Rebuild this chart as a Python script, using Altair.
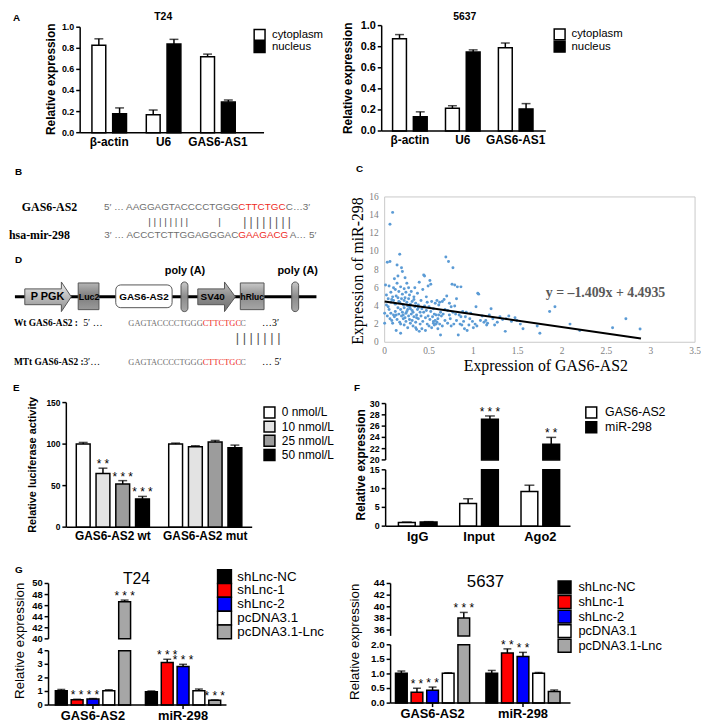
import altair as alt
import pandas as pd

W, H = 701, 716
SANS = "Liberation Sans"
SERIF = "Liberation Serif"


def vx(x):
    return x - 8


def vy(y):
    return y - 8


# ======================= DATA =======================
# --- A: nuclear / cytoplasmic fractionation ---
a_genes = ["β-actin", "U6", "GAS6-AS1"]
a_fractions = ["cytoplasm", "nucleus"]
a_colors = ["white", "black"]
t24_cyto = [0.83, 0.17, 0.72]
t24_cyto_err = [0.06, 0.045, 0.025]
t24_nuc = [0.18, 0.84, 0.29]
t24_nuc_err = [0.055, 0.045, 0.02]
c5637_cyto = [0.875, 0.215, 0.79]
c5637_cyto_err = [0.04, 0.025, 0.045]
c5637_nuc = [0.135, 0.75, 0.21]
c5637_nuc_err = [0.047, 0.02, 0.05]
a_ticks = [0, 0.2, 0.4, 0.6, 0.8, 1.0]

# --- C: correlation scatter ---
sc_x = [
    0.00, 0.00, 0.01, 0.02, 0.03, 0.04, 0.04, 0.05, 0.06, 0.06, 0.06, 0.07, 0.07, 0.07, 0.08, 0.09, 0.09, 0.09, 0.10, 0.10, 0.03, 0.05, 0.08, 0.02, 0.10,
    0.11, 0.11, 0.12, 0.12, 0.13, 0.13, 0.14, 0.14, 0.15, 0.15, 0.15, 0.16, 0.16, 0.17, 0.17, 0.17, 0.18, 0.18, 0.18, 0.19, 0.19, 0.19, 0.20, 0.20, 0.20, 0.12, 0.13, 0.16, 0.18, 0.14,
    0.21, 0.21, 0.22, 0.22, 0.22, 0.23, 0.23, 0.24, 0.24, 0.24, 0.25, 0.25, 0.26, 0.26, 0.27, 0.27, 0.28, 0.28, 0.29, 0.29, 0.30, 0.30, 0.21, 0.23, 0.26, 0.27, 0.28, 0.25, 0.22, 0.29,
    0.31, 0.31, 0.32, 0.32, 0.33, 0.33, 0.34, 0.34, 0.35, 0.35, 0.36, 0.36, 0.37, 0.37, 0.38, 0.38, 0.39, 0.39, 0.40, 0.40, 0.33, 0.36, 0.31, 0.38, 0.35,
    0.41, 0.41, 0.42, 0.42, 0.43, 0.43, 0.44, 0.44, 0.45, 0.45, 0.46, 0.46, 0.47, 0.47, 0.48, 0.48, 0.49, 0.49, 0.50, 0.50,
    0.51, 0.51, 0.52, 0.52, 0.53, 0.53, 0.54, 0.55, 0.55, 0.56, 0.56, 0.57, 0.57, 0.58, 0.58, 0.59, 0.59, 0.60, 0.60, 0.55,
    0.61, 0.61, 0.62, 0.62, 0.63, 0.63, 0.64, 0.65, 0.65, 0.66, 0.67, 0.68, 0.68, 0.69, 0.70,
    0.71, 0.71, 0.72, 0.73, 0.73, 0.74, 0.75, 0.75, 0.76, 0.77, 0.77, 0.78, 0.79, 0.79, 0.80,
    0.81, 0.81, 0.82, 0.83, 0.84, 0.85, 0.86, 0.86, 0.87, 0.88, 0.89, 0.90,
    0.91, 0.92, 0.93, 0.95, 0.96, 0.97, 0.99, 1.00, 1.02, 1.03, 1.04, 1.05, 1.06, 1.08,
    1.10, 1.12, 1.14, 1.15, 1.16, 1.18, 1.20, 1.22, 1.24, 1.27,
    1.30, 1.33, 1.36, 1.37, 1.40, 1.43, 1.47, 1.49, 1.53, 1.56,
    1.72, 1.75, 1.86, 1.92, 2.09, 2.20, 2.57, 2.72, 2.88,
]
sc_y = [
    3.2, 2.1, 6.3, 4.1, 8.8, 4.8, 3.9, 6.2, 8.9, 13.0, 2.6, 5.5, 4.4, 3.2, 4.7, 14.3, 5.0, 2.1, 3.0, 4.6, 2.9, 3.6, 2.4, 5.2, 6.0,
    7.0, 2.8, 4.2, 3.4, 1.3, 5.1, 8.5, 2.5, 4.9, 3.8, 7.3, 3.1, 5.6, 9.7, 2.2, 4.4, 6.1, 3.6, 1.0, 8.2, 4.8, 2.9, 5.3, 3.3, 7.8, 5.8, 3.0, 4.5, 2.0, 6.5,
    4.1, 2.6, 5.9, 3.8, 1.9, 4.9, 7.1, 3.2, 5.5, 2.3, 4.4, 6.5, 3.6, 1.6, 4.8, 2.9, 5.2, 3.9, 2.1, 4.2, 3.1, 5.6, 3.0, 2.7, 4.0, 6.0, 2.5, 3.4, 4.6, 3.7,
    2.4, 4.5, 3.3, 1.8, 5.0, 2.8, 3.9, 6.0, 2.2, 4.3, 3.0, 1.4, 3.6, 5.4, 2.6, 4.1, 6.6, 1.2, 3.3, 2.0, 4.7, 2.7, 3.5, 3.8, 1.6,
    4.6, 2.9, 3.7, 1.5, 5.8, 2.3, 3.3, 7.4, 4.0, 7.3, 2.7, 1.3, 3.5, 5.0, 2.0, 4.4, 2.9, 6.2, 1.8, 3.9,
    6.8, 2.5, 6.4, 3.4, 1.6, 4.5, 2.8, 3.7, 2.1, 1.9, 3.1, 4.3, 2.4, 2.0, 3.0, 2.2, 4.6, 2.6, 1.5, 2.3,
    4.1, 3.0, 2.0, 4.4, 0.8, 3.3, 2.9, 4.5, 1.8, 3.1, 4.7, 3.6, 2.4, 9.4, 5.1,
    3.5, 2.1, 8.9, 3.0, 4.3, 2.6, 3.9, 1.8, 6.4, 3.3, 8.2, 2.0, 4.0, 6.3, 3.1,
    4.8, 2.4, 6.1, 0.8, 3.0, 2.0, 6.1, 2.8, 1.9, 3.4, 2.3, 1.5,
    2.8, 3.3, 1.3, 1.9, 2.6, 3.2, 2.3, 1.6, 2.0, 3.9, 1.8, 5.4, 5.3, 2.4,
    2.9, 2.2, 2.4, 1.9, 2.1, 3.0, 3.7, 2.6, 1.9, 2.2,
    2.8, 2.5, 1.2, 2.6, 2.9, 2.3, 2.7, 2.4, 2.0, 1.5,
    1.8, 1.0, 3.4, 3.9, 2.0, 1.3, 1.6, 2.6, 1.45,
]
reg_x = [0.0, 2.89]
reg_y = [4.4935, 0.42]
c_xticks = [0, 0.5, 1, 1.5, 2, 2.5, 3, 3.5]
c_yticks = [0, 2, 4, 6, 8, 10, 12, 14, 16]

# --- E: luciferase reporter ---
e_groups = ["GAS6-AS2 wt", "GAS6-AS2 mut"]
e_conc = ["0 nmol/L", "10 nmol/L", "25 nmol/L", "50 nmol/L"]
e_colors = ["white", "#e3e3e3", "#9c9c9c", "black"]
e_wt = [100, 64.5, 52, 34]
e_wt_err = [2, 6.5, 4, 3]
e_mut = [100, 96.8, 102.4, 95.6]
e_mut_err = [1.2, 1.2, 2, 3.2]
e_wt_stars = ["", "* *", "* * *", "* * *"]
e_mut_stars = ["", "", "", ""]
e_ticks = [0, 50, 100, 150]

# --- F: RIP assay ---
f_groups = ["IgG", "Input", "Ago2"]
f_series = ["GAS6-AS2", "miR-298"]
f_colors = ["white", "black"]
f_gas6 = [1.0, 6.0, 9.2]
f_gas6_err = [0.1, 1.3, 1.7]
f_mir = [1.1, 27.2, 22.8]
f_mir_err = [0.1, 0.6, 1.2]
f_gas6_stars = ["", "", ""]
f_mir_stars = ["", "* * *", "* *"]
f_low_ticks = [0, 5, 10, 15]
f_high_ticks = [20, 22, 24, 26, 28, 30]

# --- G: knockdown / overexpression ---
g_groups = ["GAS6-AS2", "miR-298"]
g_series = ["shLnc-NC", "shLnc-1", "shLnc-2", "pcDNA3.1", "pcDNA3.1-Lnc"]
g_colors = ["black", "#ff0000", "#0000ff", "white", "#a6a6a6"]
t24_g_gas6 = [1.05, 0.40, 0.44, 1.05, 46.7]
t24_g_gas6_err = [0.10, 0.03, 0.04, 0.08, 0.3]
t24_g_mir = [0.98, 3.14, 2.84, 1.05, 0.35]
t24_g_mir_err = [0.06, 0.23, 0.16, 0.13, 0.03]
t24_g_gas6_stars = ["", "* *", "* *", "", "* * *"]
t24_g_mir_stars = ["", "* * *", "* * *", "", "* * *"]
c5637_g_gas6 = [1.02, 0.37, 0.44, 1.02, 38.06]
c5637_g_gas6_err = [0.08, 0.14, 0.11, 0.02, 0.97]
c5637_g_mir = [1.02, 1.72, 1.60, 1.02, 0.40]
c5637_g_mir_err = [0.10, 0.14, 0.14, 0.03, 0.05]
c5637_g_gas6_stars = ["", "* *", "* *", "", "* * *"]
c5637_g_mir_stars = ["", "* *", "* *", "", ""]
g_t24_low_ticks = [0, 1, 2, 3, 4]
g_t24_high_ticks = [40, 42, 44, 46, 48, 50]
g_5637_low_ticks = [0, 0.5, 1.0, 1.5, 2.0]
g_5637_high_ticks = [36, 38, 40, 42, 44]


# ======================= HELPERS =======================
BLANK = alt.Data(values=[{"k": 0}])


def df_series_major(groups, series, vals, errs, stars):
    rows = []
    for s, vl, el, sl in zip(series, vals, errs, stars):
        for g, v, e, st in zip(groups, vl, el, sl):
            rows.append({"g": g, "s": s, "v": v, "e": e, "star": st})
    d = pd.DataFrame(rows)
    d["t"] = d["v"] + d["e"]
    d["b"] = 0.0
    return d


def df_group_major(groups, series, vals, errs, stars):
    rows = []
    for g, vl, el, sl in zip(groups, vals, errs, stars):
        for s, v, e, st in zip(series, vl, el, sl):
            rows.append({"g": g, "s": s, "v": v, "e": e, "star": st})
    d = pd.DataFrame(rows)
    d["t"] = d["v"] + d["e"]
    d["b"] = 0.0
    return d


def split_df(d, low_top, high_bottom):
    low = d.copy()
    big = low["v"] > low_top
    low.loc[big, "v"] = low_top
    low.loc[big, "e"] = 0.0
    low.loc[big, "star"] = ""
    high = d[d["v"] > low_top].copy()
    high["b"] = high_bottom
    return low, high


def xscale(groups, r0, r1, pi, po, align):
    return alt.Scale(domain=groups, range=[vx(r0), vx(r1)], paddingInner=pi,
                     paddingOuter=po, align=align)


def xoffscale(series, n_groups, r0, r1, pi, po, opi):
    step = (r1 - r0) / (n_groups - pi + 2 * po)
    bw = step * (1 - pi)
    return alt.Scale(domain=series, range=[0, bw], paddingInner=opi, paddingOuter=0)


def yscale(dom, r0, r1):
    return alt.Scale(domain=dom, range=[vy(r0), vy(r1)], nice=False, zero=False)


def y_axis(ys, x_abs, dom, ticks, size, fmt="{:g}", font=SANS, weight="bold",
           color="black", line=True, ticklen=4, pad=2):
    d = pd.DataFrame({"v": ticks, "lab": [fmt.format(t) for t in ticks]})
    out = []
    if line:
        out.append(alt.Chart(BLANK).mark_rule(color="black", strokeWidth=1.5).encode(
            x=alt.value(vx(x_abs)),
            y=alt.Y(datum=dom[0], type="quantitative", scale=ys, axis=None),
            y2=alt.Y2(datum=dom[1])))
    if ticklen:
        out.append(alt.Chart(d).mark_rule(color="black", strokeWidth=1.5).encode(
            x=alt.value(vx(x_abs) - ticklen), x2=alt.value(vx(x_abs)),
            y=alt.Y("v:Q", scale=ys, axis=None)))
    out.append(alt.Chart(d).mark_text(align="right", baseline="middle", font=font,
                                      fontWeight=weight, fontSize=size, color=color).encode(
        x=alt.value(vx(x_abs) - ticklen - pad), y=alt.Y("v:Q", scale=ys, axis=None),
        text="lab:N"))
    return out


def x_axis(xs, groups, r0, r1, y_abs, size, pad, ticks=False):
    d = pd.DataFrame({"g": groups})
    out = [alt.Chart(BLANK).mark_rule(color="black", strokeWidth=1.5).encode(
        x=alt.value(vx(r0)), x2=alt.value(vx(r1)), y=alt.value(vy(y_abs)))]
    off = pad
    if ticks:
        out.append(alt.Chart(d).mark_rule(color="black", strokeWidth=1.5).encode(
            x=alt.X("g:N", scale=xs, axis=None),
            y=alt.value(vy(y_abs)), y2=alt.value(vy(y_abs) + 4)))
        off += 4
    out.append(alt.Chart(d).mark_text(baseline="top", font=SANS, fontWeight="bold",
                                      fontSize=size, color="black").encode(
        x=alt.X("g:N", scale=xs, axis=None), y=alt.value(vy(y_abs) + off), text="g:N"))
    return out


def bar_panel(d, series, colors, xs, xo, ys, extra, cap=8, star_size=12):
    X = alt.X("g:N", scale=xs, axis=None)
    XO = alt.XOffset("s:N", scale=xo)
    layers = [alt.Chart(d).mark_bar(stroke="black", strokeWidth=1.5).encode(
        x=X, xOffset=XO,
        y=alt.Y("v:Q", scale=ys, axis=None), y2=alt.Y2("b:Q"),
        fill=alt.Fill("s:N", scale=alt.Scale(domain=series, range=colors), legend=None))]
    e = d[d["e"] > 0]
    if len(e):
        layers.append(alt.Chart(e).mark_rule(color="black", strokeWidth=1.5).encode(
            x=X, xOffset=XO, y=alt.Y("v:Q", scale=ys, axis=None), y2=alt.Y2("t:Q")))
        layers.append(alt.Chart(e).mark_tick(color="black", thickness=1.5, size=cap).encode(
            x=X, xOffset=XO, y=alt.Y("t:Q", scale=ys, axis=None)))
    st = d[d["star"] != ""]
    if len(st):
        layers.append(alt.Chart(st).mark_text(font=SANS, fontSize=star_size, color="black",
                                              baseline="alphabetic").encode(
            x=X, xOffset=XO, y=alt.Y("t:Q", scale=ys, axis=None), text="star:N"))
    return alt.layer(*(layers + extra))


def legend(items, colors, sq_cx, y_first, y_last, label_x, sq, size):
    d = pd.DataFrame({"s": items})
    ys = alt.Scale(type="point", domain=items, range=[vy(y_first), vy(y_last)], padding=0)
    squares = alt.Chart(d).mark_square(size=sq * sq, filled=True, stroke="black",
                                       strokeWidth=1.5, opacity=1).encode(
        x=alt.value(vx(sq_cx)), y=alt.Y("s:N", scale=ys, axis=None),
        fill=alt.Fill("s:N", scale=alt.Scale(domain=items, range=colors), legend=None))
    labels = alt.Chart(d).mark_text(align="left", baseline="middle", font=SANS,
                                    fontSize=size, color="black").encode(
        x=alt.value(vx(label_x)), y=alt.Y("s:N", scale=ys, axis=None), text="s:N")
    return alt.layer(squares, labels)


def txt(t, x, y, size, weight="normal", font=SANS, color="black", align="left",
        baseline="middle", angle=0):
    m = dict(text=t, fontSize=size, fontWeight=weight, font=font, color=color,
             align=align, baseline=baseline)
    if angle:
        m["angle"] = angle
    return alt.Chart(BLANK).mark_text(**m).encode(x=alt.value(vx(x)), y=alt.value(vy(y)))


def box(x0, x1, y0, y1, fill, stroke="#555555", radius=0, sw=1.0):
    return alt.Chart(BLANK).mark_rect(fill=fill, stroke=stroke, strokeWidth=sw,
                                      cornerRadius=radius).encode(
        x=alt.value(vx(x0)), x2=alt.value(vx(x1)), y=alt.value(vy(y0)), y2=alt.value(vy(y1)))


def arrow(x0, x1, yc, head_x, body_h, head_h, fill):
    w = x1 - x0
    s = w / 2.0
    cx = (x0 + x1) / 2.0
    hx = (head_x - cx) / s
    b = body_h / 2.0 / s
    h = head_h / 2.0 / s
    path = (f"M-1,{-b:.3f}L{hx:.3f},{-b:.3f}L{hx:.3f},{-h:.3f}L1,0"
            f"L{hx:.3f},{h:.3f}L{hx:.3f},{b:.3f}L-1,{b:.3f}Z")
    return alt.Chart(BLANK).mark_point(shape=path, size=w * w, filled=True, fill=fill,
                                       stroke="#555555", strokeWidth=1, opacity=1).encode(
        x=alt.value(vx(cx)), y=alt.value(vy(yc)))


def grad(c0, c1, c2):
    return alt.LinearGradient(gradient="linear", x1=0, y1=0, x2=0, y2=1, stops=[
        alt.GradientStop(color=c0, offset=0), alt.GradientStop(color=c1, offset=0.5),
        alt.GradientStop(color=c2, offset=1)])


layers = []

# ======================= PANEL A =======================
dA1 = df_series_major(a_genes, a_fractions, [t24_cyto, t24_nuc], [t24_cyto_err, t24_nuc_err],
                      [["", "", ""], ["", "", ""]])
xsA1 = xscale(a_genes, 81, 267, 0.364, 0.373, 0.29)
ysA1 = yscale([0, 1], 130, 23.3)
layers.append(bar_panel(
    dA1, a_fractions, a_colors, xsA1,
    xoffscale(a_fractions, 3, 81, 267, 0.364, 0.373, 0.333), ysA1,
    y_axis(ysA1, 81, [0, 1], a_ticks, 9, "{:.1f}") + x_axis(xsA1, a_genes, 81, 267, 130, 12, 4),
    cap=9))
dA2 = df_series_major(a_genes, a_fractions, [c5637_cyto, c5637_nuc], [c5637_cyto_err, c5637_nuc_err],
                      [["", "", ""], ["", "", ""]])
xsA2 = xscale(a_genes, 386, 552, 0.346, 0.224, 0.46)
ysA2 = yscale([0, 1], 128.3, 21.7)
layers.append(bar_panel(
    dA2, a_fractions, a_colors, xsA2,
    xoffscale(a_fractions, 3, 386, 552, 0.346, 0.224, 0.333), ysA2,
    y_axis(ysA2, 386, [0, 1], a_ticks, 11, "{:.1f}") + x_axis(xsA2, a_genes, 386, 552, 128.3, 12, 4),
    cap=9))
layers.append(legend(a_fractions, a_colors, 262.5, 31, 43.5, 275, 11, 11.5))
layers.append(legend(a_fractions, a_colors, 566, 30.5, 43, 578, 11, 11.5))
layers += [
    txt("A", 13, 14, 10, "bold"),
    txt("T24", 165, 13, 10.5, "bold", align="center"),
    txt("5637", 470, 13, 10.5, "bold", align="center"),
    txt("Relative expression", 52, 76, 12, "bold", align="center", angle=270),
    txt("Relative expression", 352, 75, 12, "bold", align="center", angle=270),
]

# ======================= PANEL B =======================
GRAY_T = "#6e6e6e"
RED_T = "#ee2a24"
layers += [
    txt("B", 15, 170, 10, "bold"),
    txt("GAS6-AS2", 22, 205, 12, "bold", SERIF),
    txt("hsa-mir-298", 9, 234, 12, "bold", SERIF),
    txt("5′ … AAGGAGTACCCCTGGG", 241, 205, 10, color=GRAY_T, align="right"),
    txt("CTTCTGC", 241, 205, 10, color=RED_T),
    txt("C…3′", 289, 205, 10, color=GRAY_T),
    txt("|  |  |  |  |  |  |  |", 170, 220, 10, color="#555555", align="center"),
    txt("|", 222, 220, 10, color="#555555", align="center"),
    txt("| | | | | | | |", 270, 220, 12, color="#555555", align="center"),
    txt("3′ … ACCCTCTTGGAGGGAC", 241, 234, 10, color=GRAY_T, align="right"),
    txt("GAAGACG", 241, 234, 10, color=RED_T),
    txt("A… 5′", 293, 234, 10, color=GRAY_T),
]

# ======================= PANEL D =======================
layers += [
    txt("D", 15, 259, 10, "bold"),
    txt("poly (A)", 187, 270, 11, "bold", align="center"),
    txt("poly (A)", 301, 270, 11, "bold", align="center"),
    alt.Chart(BLANK).mark_rule(color="black", strokeWidth=3).encode(
        x=alt.value(vx(15)), x2=alt.value(vx(320)), y=alt.value(vy(296))),
    arrow(25, 72, 296, 62, 16, 30, grad("#ececec", "#bdbdbd", "#8e8e8e")),
    box(79, 100, 282, 309, grad("#b5b5b5", "#7d7d7d", "#9a9a9a")),
    box(117, 174, 284, 307, "white", "#555555", 5),
    box(183, 190, 281, 311, grad("#c8c8c8", "#8c8c8c", "#a8a8a8"), radius=3.5),
    arrow(200, 238, 296, 227, 16, 30, grad("#c0c0c0", "#8c8c8c", "#6f6f6f")),
    box(243, 267, 282, 309, grad("#c8c8c8", "#8c8c8c", "#a6a6a6")),
    box(295, 302, 281, 311, grad("#c8c8c8", "#8c8c8c", "#a8a8a8"), radius=3.5),
    txt("P PGK", 48, 296, 11, "bold", align="center"),
    txt("Luc2", 90, 296, 9, "bold", align="center"),
    txt("GAS6-AS2", 145.5, 296, 10, "bold", align="center"),
    txt("SV40", 215, 296, 10, "bold", align="center"),
    txt("hRluc", 255, 296, 8.5, "bold", align="center"),
    txt("Wt GAS6-AS2 :", 14, 323, 9.5, "bold", SERIF),
    txt("5′  …", 84, 323, 10, font=SERIF),
    txt("GAGTACCCCTGGG", 205, 323, 8.5, font=SERIF, color=GRAY_T, align="right"),
    txt("CTTCTGC", 205, 323, 8.5, font=SERIF, color=RED_T),
    txt("C", 243, 323, 8.5, font=SERIF, color=GRAY_T),
    txt("…3′", 265, 323, 10, font=SERIF),
    txt("| | | | | | |", 261, 338, 13, color="#555555", align="center"),
    txt("MTt GAS6-AS2 :", 14, 362, 9.5, "bold", SERIF),
    txt("3′…", 84, 362, 10, font=SERIF),
    txt("GAGTACCCCTGGG", 205, 362, 8.5, font=SERIF, color=GRAY_T, align="right"),
    txt("CTTCTGC", 205, 362, 8.5, font=SERIF, color=RED_T),
    txt("C", 243, 362, 8.5, font=SERIF, color=GRAY_T),
    txt("… 5′", 265, 362, 10, font=SERIF),
]

# ======================= PANEL C =======================
cx = alt.Scale(domain=[0, 3.5], range=[vx(389), vx(703)], nice=False, zero=False)
cy = alt.Scale(domain=[0, 16], range=[vy(342), vy(195)], nice=False, zero=False)
sc_df = pd.DataFrame({"x": sc_x, "y": sc_y})
reg_df = pd.DataFrame({"x": reg_x, "y": reg_y})
cxt = pd.DataFrame({"v": c_xticks, "lab": [f"{v:g}" for v in c_xticks]})
cyt = pd.DataFrame({"v": c_yticks, "lab": [f"{v:g}" for v in c_yticks]})
frame = alt.Chart(BLANK).mark_rect(fillOpacity=0, stroke="#c8c8c8", strokeWidth=1).encode(
    x=alt.X(datum=0, type="quantitative", scale=cx, axis=None),
    x2=alt.X2(datum=3.5),
    y=alt.Y(datum=0, type="quantitative", scale=cy, axis=None),
    y2=alt.Y2(datum=16))
pts = alt.Chart(sc_df).mark_circle(size=9, color="#5b9bd5", opacity=1).encode(
    x=alt.X("x:Q", scale=cx, axis=None), y=alt.Y("y:Q", scale=cy, axis=None))
reg = alt.Chart(reg_df).mark_line(color="black", strokeWidth=2).encode(
    x=alt.X("x:Q", scale=cx, axis=None), y=alt.Y("y:Q", scale=cy, axis=None))
cxl = alt.Chart(cxt).mark_text(font=SERIF, fontSize=9.5, color="#808080", baseline="middle").encode(
    x=alt.X("v:Q", scale=cx, axis=None), y=alt.value(vy(351)), text="lab:N")
cyl = alt.Chart(cyt).mark_text(font=SERIF, fontSize=9.5, color="#808080", align="right",
                               baseline="middle").encode(
    x=alt.value(vx(383)), y=alt.Y("v:Q", scale=cy, axis=None), text="lab:N")
layers.append(alt.layer(frame, pts, reg, cxl, cyl))
layers += [
    txt("C", 360, 167, 10, "bold"),
    txt("y = –1.409x + 4.4935", 552, 292, 14, "bold", SERIF, color="#595959"),
    txt("Expression of GAS6-AS2", 552, 366, 16, font=SERIF, align="center"),
    txt("Expression of miR-298", 362, 270, 16, font=SERIF, align="center", angle=270),
]

# ======================= PANEL E =======================
dE = df_group_major(e_groups, e_conc, [e_wt, e_mut], [e_wt_err, e_mut_err], [e_wt_stars, e_mut_stars])
xsE = xscale(e_groups, 67, 255, 0.209, 0.11, 0.49)
ysE = yscale([0, 150], 529, 403)
layers.append(bar_panel(
    dE, e_conc, e_colors, xsE, xoffscale(e_conc, 2, 67, 255, 0.209, 0.11, 0.3), ysE,
    y_axis(ysE, 67, [0, 150], e_ticks, 8.5) + x_axis(xsE, e_groups, 67, 255, 529, 12, 4),
    cap=9))
layers.append(legend(e_conc, e_colors, 272.5, 413, 456, 285, 11, 12))
layers += [
    txt("E", 13, 388, 10, "bold"),
    txt("Relative luciferase activity", 33, 466, 11, "bold", align="center", angle=270),
]

# ======================= PANEL F =======================
dF = df_series_major(f_groups, f_series, [f_gas6, f_mir], [f_gas6_err, f_mir_err],
                     [f_gas6_stars, f_mir_stars])
fL, fH = split_df(dF, 15, 20)
fxs = xscale(f_groups, 390, 577, 0.37, 0.193, 0.54)
fxo = xoffscale(f_series, 3, 390, 577, 0.37, 0.193, 0.23)
fysL = yscale([0, 15], 528, 471)
fysH = yscale([20, 30], 461, 404)
layers.append(bar_panel(fL, f_series, f_colors, fxs, fxo, fysL,
                        y_axis(fysL, 390, [0, 15], f_low_ticks, 9)
                        + x_axis(fxs, f_groups, 390, 577, 528, 13, 5), cap=10))
layers.append(bar_panel(fH, f_series, f_colors, fxs, fxo, fysH,
                        y_axis(fysH, 390, [20, 30], f_high_ticks, 9), cap=10))
layers.append(legend(f_series, f_colors, 598, 413, 428, 612, 11, 12.5))
layers += [
    txt("F", 358, 388, 10, "bold"),
    txt("Relative expression", 365, 466, 12, "bold", align="center", angle=270),
]

# ======================= PANEL G =======================
dG1 = df_group_major(g_groups, g_series, [t24_g_gas6, t24_g_mir], [t24_g_gas6_err, t24_g_mir_err],
                     [t24_g_gas6_stars, t24_g_mir_stars])
g1L, g1H = split_df(dG1, 4, 40)
g1xs = xscale(g_groups, 49, 229, 0.165, 0.07, 0.54)
g1xo = xoffscale(g_series, 2, 49, 229, 0.165, 0.07, 0.25)
g1ysL = yscale([0, 4], 709, 654)
g1ysH = yscale([40, 50], 642, 586)
layers.append(bar_panel(g1L, g_series, g_colors, g1xs, g1xo, g1ysL,
                        y_axis(g1ysL, 49, [0, 4], g_t24_low_ticks, 9.5)
                        + x_axis(g1xs, g_groups, 49, 229, 709, 13, 1, ticks=True), cap=8))
layers.append(bar_panel(g1H, g_series, g_colors, g1xs, g1xo, g1ysH,
                        y_axis(g1ysH, 49, [40, 50], g_t24_high_ticks, 9.5), cap=8))

dG2 = df_group_major(g_groups, g_series, [c5637_g_gas6, c5637_g_mir],
                     [c5637_g_gas6_err, c5637_g_mir_err], [c5637_g_gas6_stars, c5637_g_mir_stars])
g2L, g2H = split_df(dG2, 2, 35)
g2xs = xscale(g_groups, 395, 577, 0.18, 0.085, 0.32)
g2xo = xoffscale(g_series, 2, 395, 577, 0.18, 0.085, 0.25)
g2ysL = yscale([0, 2], 707, 648)
g2ysH = yscale([35, 44], 639, 586)
layers.append(bar_panel(g2L, g_series, g_colors, g2xs, g2xo, g2ysL,
                        y_axis(g2ysL, 395, [0, 2], g_5637_low_ticks, 10, "{:.1f}")
                        + x_axis(g2xs, g_groups, 395, 577, 707, 13, 1, ticks=True), cap=8))
layers.append(bar_panel(g2H, g_series, g_colors, g2xs, g2xo, g2ysH,
                        y_axis(g2ysH, 395, [35, 44], g_5637_high_ticks, 10), cap=8))
layers.append(legend(g_series, g_colors, 227, 579, 635, 240, 14, 13.5))
layers.append(legend(g_series, g_colors, 571, 590, 649, 585, 13, 13))
layers += [
    txt("G", 15, 572, 10, "bold"),
    txt("T24", 138, 582, 16, align="center"),
    txt("5637", 491, 585, 17, align="center"),
    txt("Relative expression", 20, 644, 13.5, align="center", angle=270),
    txt("Relative expression", 359, 645, 13.5, align="center", angle=270),
]

# ======================= ASSEMBLE =======================
chart = alt.layer(*layers).resolve_scale(
    x="independent", y="independent", xOffset="independent",
    fill="independent", color="independent"
).properties(
    width=W, height=H, autosize=alt.AutoSizeParams(type="none"), padding=0,
    background="white"
).configure_view(strokeWidth=0)

chart.save("out.html", embed_options={"renderer": "svg", "actions": False})
